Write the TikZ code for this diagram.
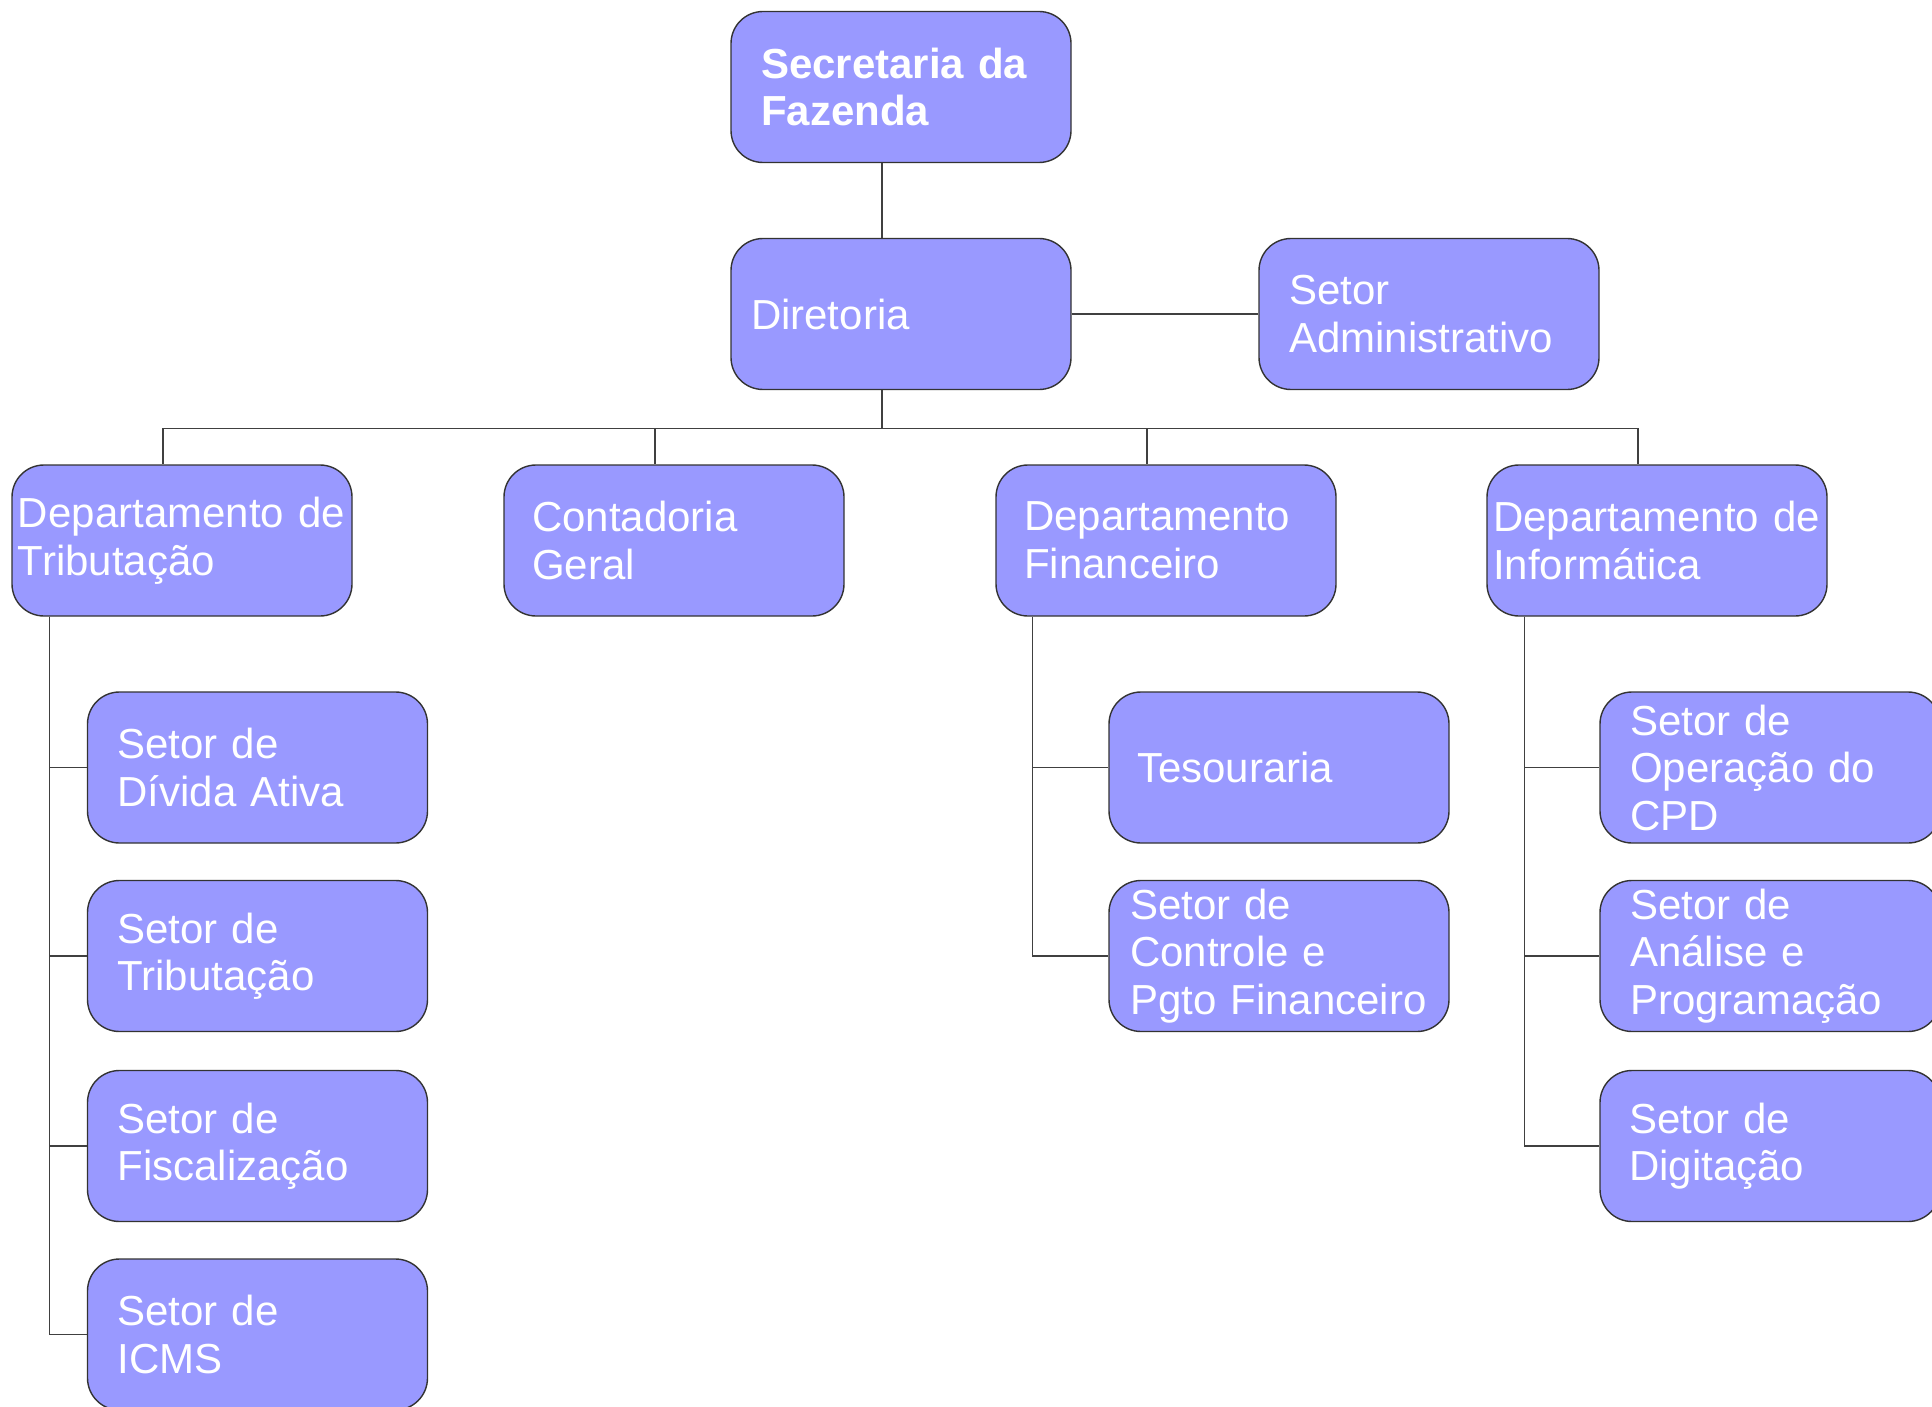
\documentclass[tikz,border=0pt]{standalone}
\usepackage{fontspec}
\setmainfont{Liberation Sans}
\definecolor{unitfill}{HTML}{9999FF}

\begin{document}
\begin{tikzpicture}[x=0.5pt, y=-0.5pt,
    unit/.style={draw=black!80, line width=0.7pt, fill=unitfill, rounded corners=16pt,
        minimum width=170pt, minimum height=75.5pt, inner ysep=0pt, text=white,
        align=left, font=\fontsize{21}{23.75}\selectfont},
    pad/.code={\pgfmathsetmacro\tw{170-2*#1}\edef\tmp{\noexpand\tikzset{inner xsep=#1pt, text width=\tw pt}}\tmp},
    link/.style={draw=black!75, line width=0.7pt}]
    \useasboundingbox (0,0) rectangle (1932,1407);
    % top
    \node[unit, pad=15, font=\fontsize{21}{23.75}\selectfont\bfseries] (sec) at (901,87) {Secretaria da\\Fazenda};
    \node[unit, pad=10] (dir) at (901,314) {Diretoria};
    \node[unit, pad=15] (adm) at (1429,314) {Setor\\Administrativo};
    % departments
    \node[unit, pad=3] (trib) at (182,540.5) {Departamento de\\Tributação};
    \node[unit, pad=14] (cont) at (674,540.5) {Contadoria\\Geral};
    \node[unit, pad=14] (fin) at (1166,540.5) {Departamento\\Financeiro};
    \node[unit, pad=3] (info) at (1657,540.5) {Departamento de\\Informática};
    % sectors
    \node[unit, pad=15] (t1) at (257.5,767.5) {Setor de\\Dívida Ativa};
    \node[unit, pad=15] (t2) at (257.5,956) {Setor de\\Tributação};
    \node[unit, pad=15] (t3) at (257.5,1146) {Setor de\\Fiscalização};
    \node[unit, pad=15] (t4) at (257.5,1334.5) {Setor de\\ICMS};
    \node[unit, pad=14] (f1) at (1279,767.5) {Tesouraria};
    \node[unit, pad=10.5] (f2) at (1279,956) {Setor de\\Controle e\\Pgto Financeiro};
    \node[unit, pad=15] (i1) at (1770,767.5) {Setor de\\Operação do\\CPD};
    \node[unit, pad=15] (i2) at (1770,956) {Setor de\\Análise e\\Programação};
    \node[unit, pad=14.5] (i3) at (1770,1146) {Setor de\\Digitação};

    \draw[link] ([xshift=-9.5pt]sec.south) -- ([xshift=-9.5pt]dir.north);
    \draw[link] (dir.east) -- (adm.west);
    \foreach \n in {trib,cont,fin,info}
        \draw[link] ([xshift=-9.5pt]dir.south) -- +(0,-19pt) -| ([xshift=-9.5pt]\n.north);
    \foreach \n in {t1,t2,t3,t4}
        \draw[link] ([xshift=19pt]trib.south west) |- (\n.west);
    \foreach \n in {f1,f2}
        \draw[link] ([xshift=18.5pt]fin.south west) |- (\n.west);
    \foreach \n in {i1,i2,i3}
        \draw[link] ([xshift=19pt]info.south west) |- (\n.west);
\end{tikzpicture}
\end{document}
